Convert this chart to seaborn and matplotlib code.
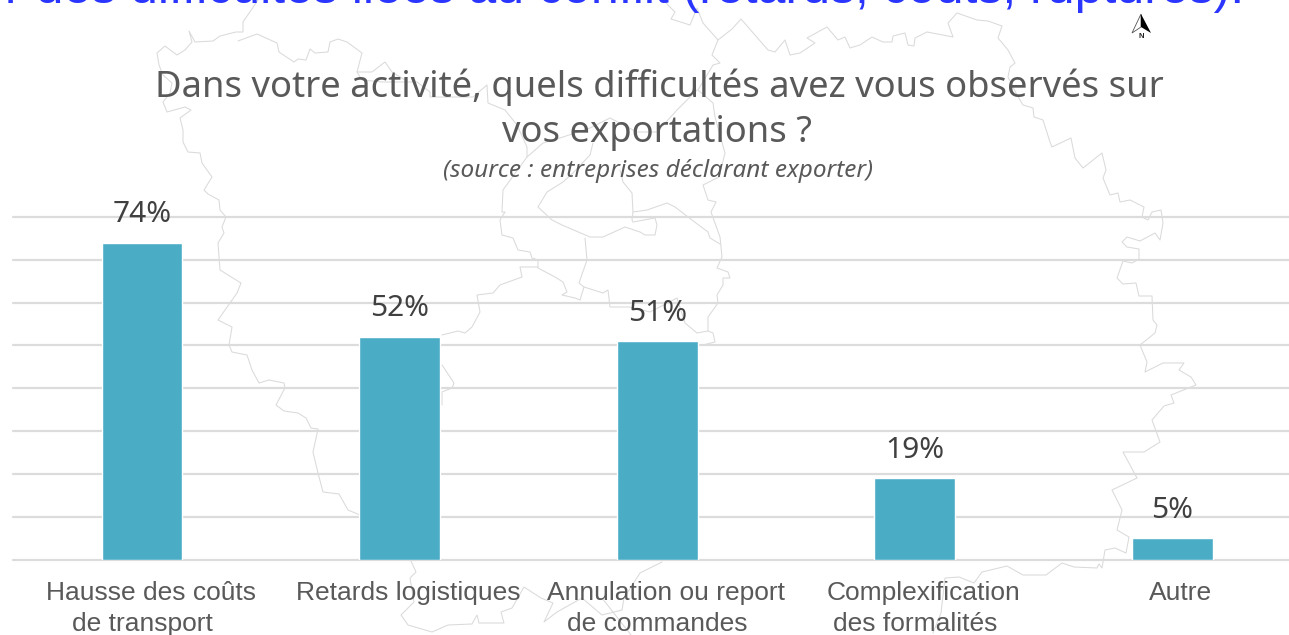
import matplotlib
matplotlib.use("Agg")
import matplotlib.pyplot as plt
from matplotlib.transforms import ScaledTranslation
import seaborn as sns

# donnees du graphique
cat_line1 = ["Hausse des coûts", "Retards logistiques", "Annulation ou report", "Complexification", "Autre"]
cat_line2 = ["de transport", "", "de commandes", "des formalités", ""]
values = [74, 52, 51, 19, 5]
grid_ticks = [0, 10, 20, 30, 40, 50, 60, 70, 80]

title_1 = "Dans votre activité, quels difficultés avez vous observés sur"
title_2 = "vos exportations ?"
subtitle = "(source : entreprises déclarant exporter)"
top_text = "r des difficultés liées au conflit (retards, coûts, ruptures)."

# fond de carte (decor, en pixels de l'image)
map_outer = [(258,0),(243,22),(243,32),(236,32),(220,36),(213,41),(195,42),(189,31),(192,42),(185,50),(177,55),(165,46),
             (157,53),(159,65),(163,75),(172,83),(170,93),(163,102),(167,112),(185,107),(191,110),(180,118),(183,130),
             (183,142),(188,152),(200,153),(202,163),(212,177),(204,190),(208,194),(219,200),(220,210),(226,217),(222,227),
             (224,233),(218,243),(220,270),(241,283),(237,293),(218,320),(232,327),(229,345),(232,352),(247,355),(252,370),
             (259,383),(269,380),(284,383),(285,388),(276,405),(284,411),(298,413),(306,418),(311,428),(318,429),(313,452),
             (318,473),(323,492),(339,494),(348,510),(360,515),(411,561),(416,572),(410,578),(414,602),(401,615),(408,625),
             (432,632),(448,625),(472,624),(477,615),(479,623),(504,623),(501,612),(512,608),(524,587),(541,598),(553,603),
             (544,622),(557,612),(582,598),(602,615),(622,610),(624,598),(640,573),(646,570),(662,562)]
map_outer_2 = [(933,633),(941,613),(945,578),(959,577),(974,583),(982,572),(1007,566),(1023,575),(1046,575),(1062,563),
             (1074,567),(1097,568),(1099,564),(1102,568),(1105,550),(1115,548),(1126,553),(1129,537),(1117,530),(1122,510),
             (1112,490),(1137,478),(1123,452),(1144,452),(1160,442),(1152,420),(1164,406),(1174,403),(1171,395),(1196,385),
             (1191,377),(1179,370),(1184,363),(1163,363),(1145,372),(1147,362),(1140,345),(1155,333),(1157,325),(1153,320),
             (1152,296),(1139,296),(1136,283),(1123,284),(1117,278),(1123,261),(1132,263),(1139,259),(1139,249),(1127,247),
             (1122,242),(1127,237),(1140,241),(1155,233),(1160,240),(1163,223),(1161,210),(1152,212),(1148,220),(1142,217),
             (1144,207),(1130,200),(1120,202),(1118,193),(1110,195),(1103,178),(1106,170),(1102,153),(1083,168),(1075,158),
             (1071,138),(1052,147),(1050,142),(1043,120),(1034,117),(1033,108),(1023,105),(1017,95),(1008,77),(1010,67),
             (1015,63),(1008,50),(998,38),(1002,26),(988,21),(977,20),(957,13),(948,23),(953,37),(927,32),(915,38),(914,46),
             (908,45),(905,33),(893,36),(892,42),(883,42),(872,37),(860,45),(850,48),(845,37),(838,40),(827,27),(807,38),
             (815,43),(800,53),(790,55),(785,40),(775,52),(768,50),(741,19),(732,29),(718,40),(703,23),(697,8),(690,25),
             (671,19),(675,12),(663,0)]
map_west = [(238,41),(257,34),(277,43),(279,52),(294,62),(298,59),(306,60),(310,49),(315,53),(328,52),(330,42),(338,39),
            (347,42),(362,53),(357,72),(362,80),(383,82),(417,82),(430,92),(430,97),(473,97),(487,85),(488,103),(505,110),
            (517,125),(527,147),(527,157),(503,190),(502,212),(505,212),(500,220),(502,235),(513,238),(518,250),(530,252),
            (532,258),(538,260),(538,268),(555,277),(563,282),(567,292),(562,295),(575,298),(580,300),(584,287),(579,283),
            (587,260),(585,238)]
map_north = [(357,72),(372,72),(385,62),(392,72),(405,80)]
map_east = [(718,40),(712,55),(720,63),(713,65),(698,90),(713,103),(715,117),(725,153),(719,177),(703,185),(708,200),
            (716,202),(711,212),(720,237),(722,257),(717,268),(728,272),(730,278),(723,278),(723,285),(717,295),(718,303),
            (708,317),(708,331),(713,333),(715,342),(703,345)]
map_center = [(527,157),(543,143),(563,137),(590,128),(610,118),(637,132),(657,132),(677,110),(697,90)]
map_paris = [(593,143),(590,155),(573,173),(563,182),(547,192),(538,207),(552,220),(562,225),(590,237),(603,237),(625,227),
             (640,232),(645,235),(655,235),(657,225),(655,218),(633,222),(632,220),(633,212),(632,193),(623,182),(620,170)]
map_south = [(538,267),(520,267),(522,277),(500,285),(493,293),(477,295),(480,312),(472,327),(465,333),(458,331),(442,335)]
map_mid = [(584,287),(603,293),(608,290),(610,307),(630,307),(650,312),(677,298),(685,323),(697,333),(708,331)]
map_side = [(633,212),(647,210),(667,203),(675,207),(692,220),(708,232),(710,238),(720,244)]
map_bits = [(442,365),(454,383),(452,388),(442,392),(442,405)]
map_tail = [(602,598),(631,635)]
map_lines = [map_outer, map_outer_2, map_west, map_north, map_east, map_center, map_paris, map_south, map_mid, map_side,
             map_bits, map_tail]

W, H = 1289, 635
sns.set_theme(style="white")
plt.rcParams["font.family"] = ["Noto Sans", "DejaVu Sans"]

fig = plt.figure(figsize=(W / 100, H / 100), dpi=100)

# carte en arriere plan
bg = fig.add_axes([0, 0, 1, 1], zorder=0)
bg.set_xlim(0, W)
bg.set_ylim(H, 0)
bg.axis("off")
for line in map_lines:
    bg.plot([p[0] for p in line], [p[1] for p in line], color="#dadada", lw=0.75)

# fleche du nord
bg.fill([1141, 1132, 1141], [14, 33, 27], facecolor="white", edgecolor="#555555", lw=0.6)
bg.fill([1141, 1151, 1141], [14, 33, 27], color="black", lw=0)
bg.text(1141, 37, "N", fontsize=5.5, ha="center", va="center", color="#222222", family="Liberation Sans", weight="bold")

# graphique
ax = fig.add_axes([13.2 / W, (H - 559.5) / H, 1288 / W, (559.5 - 217) / H], zorder=1)
ax.set_facecolor("none")
sns.barplot(x=cat_line1, y=values, color="#4bacc6", saturation=1, width=0.314, ax=ax, zorder=3)
ax.set_ylim(0, 80)
ax.set_xlim(-0.5, 4.5)
ax.set_yticks(grid_ticks)
ax.set_yticklabels([])
ax.yaxis.grid(True, color="#dcdcdc", lw=1.6)
for g in ax.get_ygridlines():
    g.set_clip_on(False)
sns.despine(ax=ax, left=True, top=True, right=True, bottom=True)

ax.bar_label(ax.containers[0], fmt="%d%%", padding=9.7, fontsize=21.5, color="#404040")

# etiquettes sur deux lignes, la premiere est decalee de 8 px
ticks = list(range(len(cat_line1)))
ax.xaxis.remove_overlapping_locs = False
ax.set_xticks(ticks, cat_line1, family="Liberation Sans", fontsize=19, color="#595959")
ax.set_xticks(ticks, cat_line2, minor=True, family="Liberation Sans", fontsize=19, color="#595959")
ax.tick_params(axis="x", which="major", length=0, pad=15.7)
ax.tick_params(axis="x", which="minor", length=0, pad=38)
ax.tick_params(axis="y", length=0)
shift = ScaledTranslation(8.5 / 100, 0, fig.dpi_scale_trans)
for lab in ax.get_xticklabels():
    lab.set_transform(lab.get_transform() + shift)


def px(x, y):
    return x / W, 1 - y / H


fig.text(*px(659, 97), title_1, ha="center", va="baseline", fontsize=26.2, color="#595959")
fig.text(*px(657.5, 142), title_2, ha="center", va="baseline", fontsize=26.2, color="#595959")
fig.text(*px(658, 177), subtitle, ha="center", va="baseline", fontsize=17.5, style="italic", color="#595959")
fig.text(*px(5, 3), top_text, ha="left", va="baseline", fontsize=36, color="#2a35ff", family="Liberation Sans")

fig.savefig("out.png", dpi=100)
